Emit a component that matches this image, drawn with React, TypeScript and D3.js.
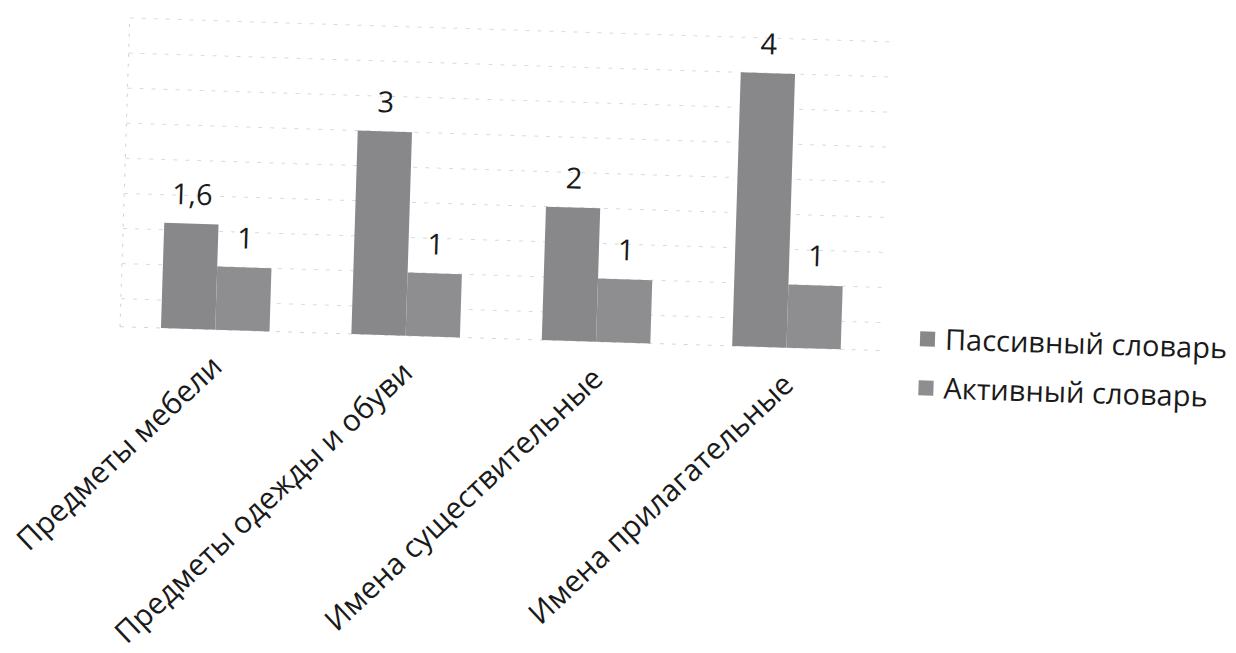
import React from "react";
import * as d3 from "d3";

const categories = [
  "Предметы мебели",
  "Предметы одежды и обуви",
  "Имена существительные",
  "Имена прилагательные",
];
const seriesNames = ["Пассивный словарь", "Активный словарь"];
const passiveValues = [1.6, 3, 2, 4];
const activeValues = [1, 1, 1, 1];
const valueLabelsPassive = ["1,6", "3", "2", "4"];
const valueLabelsActive = ["1", "1", "1", "1"];
const gridTicks = [0.5, 1, 1.5, 2, 2.5, 3, 3.5, 4, 4.5];

const W = 1236;
const H = 653;
const PIVOT_X = 161;
const BASE_Y = 328;
const ROT = 1.8;
const FONT = "'Open Sans', 'Noto Sans', sans-serif";
const COLORS = ["#88888b", "#8e8e91"];

export default function App() {
  const x = d3
    .scaleBand<string>()
    .domain(categories)
    .range([120, 882])
    .paddingInner(0.43)
    .paddingOuter(0.215);
  const xs = d3
    .scaleBand<string>()
    .domain(seriesNames)
    .range([0, x.bandwidth()])
    .padding(0);
  const y = d3.scaleLinear().domain([0.1, 4.5]).range([BASE_Y, BASE_Y - 4.4 * 70.2]);

  const series = [passiveValues, activeValues];
  const labels = [valueLabelsPassive, valueLabelsActive];
  const [x0, x1] = x.range();

  return (
    <svg
      width={W}
      height={H}
      viewBox={`0 0 ${W} ${H}`}
      style={{ position: "absolute", left: 0, top: 0, background: "#fff" }}
    >
      <rect x={0} y={0} width={W} height={H} fill="#fff" />
      <g transform={`rotate(${ROT}, ${PIVOT_X}, ${BASE_Y})`}>
        {/* gridlines */}
        {gridTicks.map((t) => (
          <line
            key={t}
            x1={x0}
            x2={x1}
            y1={y(t)}
            y2={y(t)}
            stroke="#dadada"
            strokeWidth={1}
            strokeDasharray="4 8"
          />
        ))}
        <line x1={x0} x2={x1} y1={y(0.1)} y2={y(0.1)} stroke="#d6d6d6" strokeDasharray="4 8" />
        <line x1={x0} x2={x0} y1={y(0.1)} y2={y(4.5)} stroke="#d0d0d0" strokeDasharray="3 7" />

        {/* bars */}
        {categories.map((c, i) => (
          <g key={c} transform={`translate(${x(c)},0)`}>
            {seriesNames.map((s, j) => (
              <rect
                key={s}
                x={xs(s)}
                y={y(series[j][i])}
                width={xs.bandwidth()}
                height={y(0.1) - y(series[j][i])}
                fill={COLORS[j]}
              />
            ))}
            {seriesNames.map((s, j) => (
              <text
                key={s + "l"}
                x={(xs(s) as number) + xs.bandwidth() / 2}
                y={y(series[j][i]) - 19}
                textAnchor="middle"
                fontFamily={FONT}
                fontSize={29}
                fill="#1a1a1a"
              >
                {labels[j][i]}
              </text>
            ))}
          </g>
        ))}

        {/* category labels */}
        {categories.map((c) => {
          const cx = (x(c) as number) + x.bandwidth() / 2 + 10;
          const cy = BASE_Y + 39;
          return (
            <text
              key={c}
              x={cx}
              y={cy}
              transform={`rotate(-45, ${cx}, ${cy})`}
              textAnchor="end"
              fontFamily={FONT}
              fontSize={30}
              fill="#1a1a1a"
            >
              {c}
            </text>
          );
        })}

        {/* legend */}
        {seriesNames.map((s, j) => (
          <g key={s} transform={`translate(920, ${315 + j * 49})`}>
            <rect x={0} y={-7.5} width={15} height={15} fill={COLORS[j]} />
            <text x={25} y={10} fontFamily={FONT} fontSize={29} fill="#1a1a1a">
              {s}
            </text>
          </g>
        ))}
      </g>
    </svg>
  );
}
